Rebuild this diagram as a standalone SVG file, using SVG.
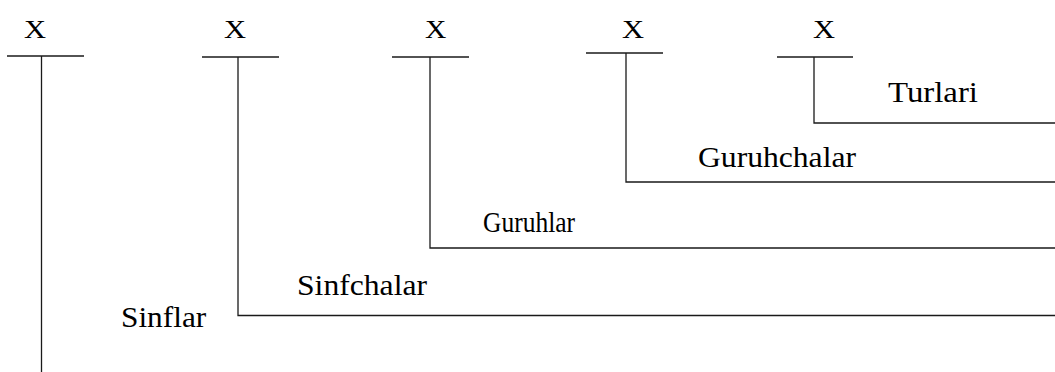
<svg xmlns="http://www.w3.org/2000/svg" width="1055" height="372" viewBox="0 0 1055 372">
<style>
.ln{stroke:#1a1a1a;stroke-width:1.3;fill:none}
text{font-family:"Liberation Serif","Times New Roman",Times,serif;fill:#000}
.x{font-size:25px}
.lb{font-size:30px}
</style>
<rect width="1055" height="372" fill="#fff"/>
<g id="node1">
<text class="x" transform="translate(24,38) scale(1.22,1)">X</text>
<line class="ln" x1="7" y1="56" x2="84" y2="56"/>
</g>
<g id="node2">
<text class="x" transform="translate(224,38) scale(1.22,1)">X</text>
<line class="ln" x1="202" y1="57" x2="279" y2="57"/>
</g>
<g id="node3">
<text class="x" transform="translate(425,38) scale(1.18,1)">X</text>
<line class="ln" x1="392" y1="57" x2="469" y2="57"/>
</g>
<g id="node4">
<text class="x" transform="translate(622,38) scale(1.22,1)">X</text>
<line class="ln" x1="586" y1="53" x2="663" y2="53"/>
</g>
<g id="node5">
<text class="x" transform="translate(813,38) scale(1.22,1)">X</text>
<line class="ln" x1="777" y1="57" x2="853" y2="57"/>
</g>
<g id="labels">
<text class="lb" transform="translate(888,102) scale(1.095,1)">Turlari</text>
<text class="lb" transform="translate(698,167) scale(1.054,1)">Guruhchalar</text>
<text class="lb" transform="translate(483,232) scale(0.85,1)">Guruhlar</text>
<text class="lb" transform="translate(297,295) scale(1.055,1)">Sinfchalar</text>
<text class="lb" transform="translate(121,327) scale(1.044,1)">Sinflar</text>
</g>
<g id="connectors">
<polyline class="ln" points="41.5,56 41.5,372"/>
<polyline class="ln" points="238,57 238,315.5 1055,315.5"/>
<polyline class="ln" points="430,57 430,248 1055,248"/>
<polyline class="ln" points="626,53 626,182 1055,182"/>
<polyline class="ln" points="814,57 814,123 1055,123"/>
</g>
</svg>
